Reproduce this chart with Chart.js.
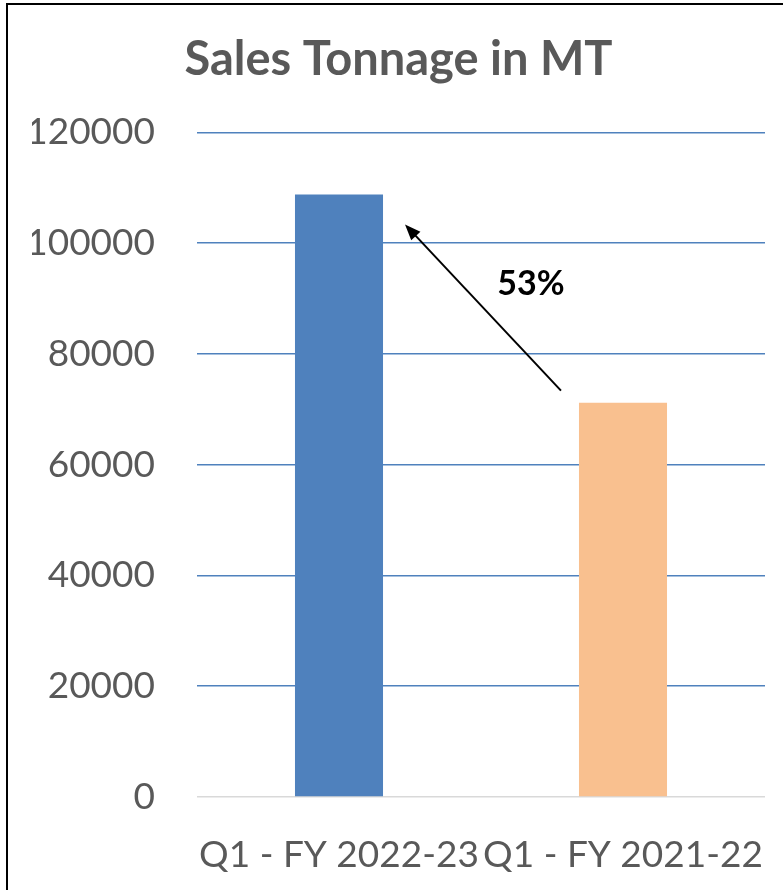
<!DOCTYPE html>
<html lang="en">
<head>
    <meta charset="UTF-8">
    <title>Sales Tonnage in MT</title>
    <script src="https://cdn.jsdelivr.net/npm/chart.js"></script>
    <style>
        body {
            margin: 0;
            padding: 0;
            background: #ffffff;
            overflow: hidden;
        }
        .frame {
            position: absolute;
            left: 6px;
            top: 3px;
            width: 820px;
            height: 920px;
            border: 2px solid #000;
        }
        #salesChart {
            position: absolute;
            left: 0;
            top: 0;
        }
    </style>
</head>
<body>
    <div class="frame"></div>
    <canvas id="salesChart" width="783" height="890"></canvas>

    <script>
        // data
        const categories = ['Q1 - FY 2022-23', 'Q1 - FY 2021-22'];
        const tonnage = [108800, 71200];
        const barColors = ['#4f81bd', '#f9c08f'];
        const yTicks = [0, 20000, 40000, 60000, 80000, 100000, 120000];

        const textGray = '#595959';
        const fontName = 'Lato, "Open Sans", sans-serif';

        // arrow + growth label between the two bars
        const growthArrow = {
            id: 'growthArrow',
            afterDatasetsDraw(chart) {
                const bars = chart.getDatasetMeta(0).data;
                const a = bars[1], b = bars[0];
                const x1 = a.x - a.width / 2 - 18, y1 = a.y - 12;
                const x2 = b.x + b.width / 2 + 22, y2 = b.y + 30;
                const c = chart.ctx;
                const ang = Math.atan2(y2 - y1, x2 - x1);
                const head = 17;
                c.save();
                c.strokeStyle = '#000';
                c.fillStyle = '#000';
                c.lineWidth = 2;
                c.beginPath();
                c.moveTo(x1, y1);
                c.lineTo(x2 - Math.cos(ang) * head * 0.8, y2 - Math.sin(ang) * head * 0.8);
                c.stroke();
                c.beginPath();
                c.moveTo(x2, y2);
                c.lineTo(x2 - head * Math.cos(ang - 0.38), y2 - head * Math.sin(ang - 0.38));
                c.lineTo(x2 - head * Math.cos(ang + 0.38), y2 - head * Math.sin(ang + 0.38));
                c.closePath();
                c.fill();

                const pct = Math.round((tonnage[0] / tonnage[1] - 1) * 100) + '%';
                c.font = 'bold 34px ' + fontName;
                c.textAlign = 'center';
                c.textBaseline = 'middle';
                c.fillText(pct, (x1 + x2) / 2 + 48, (y1 + y2) / 2 - 24);
                c.restore();
            }
        };

        new Chart(document.getElementById('salesChart'), {
            type: 'bar',
            data: {
                labels: categories,
                datasets: [{
                    data: tonnage,
                    backgroundColor: barColors,
                    barPercentage: 0.31,
                    categoryPercentage: 1
                }]
            },
            options: {
                responsive: false,
                animation: false,
                layout: {
                    padding: { left: 32, right: 18, top: 32, bottom: 0 }
                },
                plugins: {
                    legend: { display: false },
                    tooltip: { enabled: false },
                    title: {
                        display: true,
                        text: 'Sales Tonnage in MT',
                        color: textGray,
                        font: { family: fontName, size: 47, weight: 'bold' },
                        padding: { top: 0, bottom: 44 }
                    }
                },
                scales: {
                    x: {
                        grid: { display: false, drawTicks: false },
                        border: { display: false },
                        ticks: {
                            color: textGray,
                            font: { family: fontName, size: 37 },
                            padding: 36,
                            maxRotation: 0,
                            autoSkip: false
                        },
                        afterFit(axis) {
                            axis.height = 93;
                            axis.paddingLeft = 0;
                            axis.paddingRight = 0;
                        }
                    },
                    y: {
                        min: 0,
                        max: 120000,
                        afterBuildTicks(axis) {
                            axis.ticks = yTicks.map(v => ({ value: v }));
                        },
                        border: { display: false },
                        grid: {
                            drawTicks: false,
                            lineWidth: 1.5,
                            color: ctx => ctx.tick && ctx.tick.value === 0 ? '#d9d9d9' : '#4f81bd'
                        },
                        ticks: {
                            color: textGray,
                            font: { family: fontName, size: 37 },
                            padding: 42,
                            callback: v => String(v)
                        },
                        afterFit(axis) { axis.width = 165; }
                    }
                }
            },
            plugins: [growthArrow]
        });
    </script>
</body>
</html>
